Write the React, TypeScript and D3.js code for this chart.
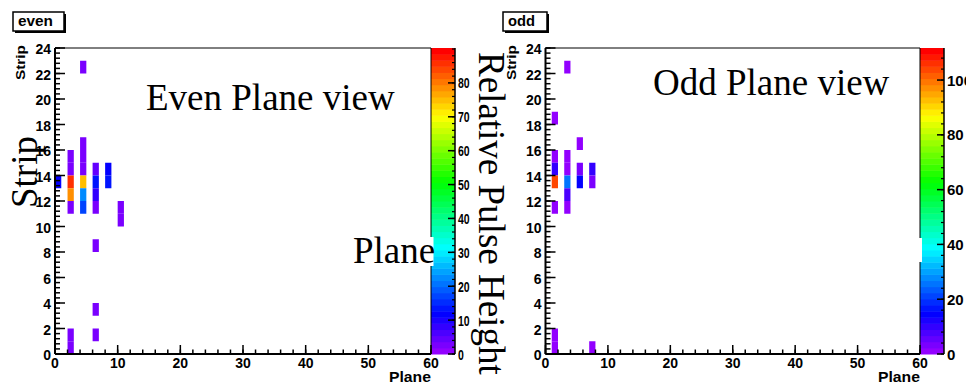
import React from 'react';
import * as d3 from 'd3';

// ---- data ----
const planeTicks = [0, 10, 20, 30, 40, 50, 60];
const stripTicks = [0, 2, 4, 6, 8, 10, 12, 14, 16, 18, 20, 22, 24];

const evenPlane = [0, 2, 2, 2, 2, 2, 2, 2, 4, 4, 4, 4, 4, 4, 4, 6, 6, 6, 6, 6, 6, 6, 8, 8, 10, 10];
const evenStrip = [13, 15, 14, 13, 12, 11, 1, 0, 22, 16, 15, 14, 13, 12, 11, 14, 13, 12, 11, 8, 3, 1, 14, 13, 11, 10];
const evenValue = [12, 3, 3, 86, 78, 3, 2, 2, 2, 2, 2, 3, 75, 22, 18, 4, 14, 8, 3, 2, 2, 2, 12, 13, 2, 2];

const oddPlane = [1, 1, 1, 1, 1, 1, 1, 3, 3, 3, 3, 3, 3, 5, 5, 5, 7, 7, 7];
const oddStrip = [18, 15, 14, 13, 11, 1, 0, 22, 15, 14, 13, 12, 11, 16, 14, 13, 14, 13, 0];
const oddValue = [2, 2, 11, 104, 2, 2, 2, 2, 2, 2, 26, 8, 2, 2, 3, 15, 10, 3, 2];

const evenZTicks = [0, 10, 20, 30, 40, 50, 60, 70, 80];
const oddZTicks = [0, 20, 40, 60, 80, 100];
const evenZMax = 90.3;
const oddZMax = 111.7;

const SANS = "'Liberation Sans', Arial, sans-serif";
const SERIF = "'Liberation Serif', 'Times New Roman', serif";

function palette(v: number, max: number) {
  const i = Math.min(49, Math.max(0, Math.floor((v / max) * 50)));
  return d3.hsl(280 - (i + 1) * 5.6, 1, 0.5).formatRgb();
}

type PanelProps = {
  x0: number;
  x1: number;
  plane: number[];
  strip: number[];
  value: number[];
  zMax: number;
  zTicks: number[];
  zMinor: number;
  zLabelScale: number;
  title: string;
  titleBox: [number, number];
  titleLen: number;
};

function Panel(p: PanelProps) {
  const yTop = 48;
  const yBot = 354;
  const x = d3.scaleLinear().domain([0, 60]).range([p.x0, p.x1]);
  const y = d3.scaleLinear().domain([0, 24]).range([yBot, yTop]);
  const z = d3.scaleLinear().domain([0, p.zMax]).range([yBot, yTop]);
  const cb0 = p.x1;
  const cb1 = p.x1 + 24;

  const xMinor = d3.range(0, 60.01, 2);
  const yMinor = d3.range(0, 24.01, 0.4);
  const zMinorTicks = d3.range(0, p.zMax, p.zMinor);
  const bands = d3.range(50);

  return (
    <g>
      {/* cells */}
      {p.plane.map((pl, i) => (
        <rect
          key={'c' + i}
          x={x(pl)}
          y={y(p.strip[i] + 1)}
          width={x(pl + 1) - x(pl)}
          height={y(p.strip[i]) - y(p.strip[i] + 1)}
          fill={palette(p.value[i], p.zMax)}
        />
      ))}
      {/* color bar */}
      {bands.map((i) => {
        const lo = (i * p.zMax) / 50;
        const hi = ((i + 1) * p.zMax) / 50;
        return (
          <rect
            key={'b' + i}
            x={cb0}
            y={z(hi)}
            width={cb1 - cb0}
            height={z(lo) - z(hi) + 0.5}
            fill={palette((lo + hi) / 2, p.zMax)}
          />
        );
      })}
      <line x1={cb1} x2={cb1} y1={yTop} y2={yBot} stroke="#000" strokeWidth={1.5} />
      {zMinorTicks.map((t) => (
        <line key={'zm' + t} x1={cb1 - 3} x2={cb1} y1={z(t)} y2={z(t)} stroke="#000" strokeWidth={1.2} />
      ))}
      {p.zTicks.map((t) => (
        <g key={'zt' + t}>
          <line x1={cb1 - 7} x2={cb1} y1={z(t)} y2={z(t)} stroke="#000" strokeWidth={1.5} />
          <text
            transform={`translate(${cb1 + 3},${z(t) + 5.5}) scale(${p.zLabelScale},1)`}
            fontFamily={SANS}
            fontWeight="bold"
            fontSize={15}
          >
            {t}
          </text>
        </g>
      ))}
      {/* frame */}
      <line x1={p.x0} x2={p.x1} y1={yTop} y2={yTop} stroke="#000" strokeWidth={1} />
      <line x1={p.x1} x2={p.x1} y1={yTop} y2={yBot} stroke="#000" strokeWidth={1} />
      {/* axes */}
      <line x1={p.x0} x2={p.x1} y1={yBot} y2={yBot} stroke="#000" strokeWidth={2} />
      <line x1={p.x0} x2={p.x0} y1={yTop} y2={yBot} stroke="#000" strokeWidth={2} />
      {xMinor.map((t) => (
        <line key={'xm' + t} x1={x(t)} x2={x(t)} y1={yBot} y2={yBot - 4.5} stroke="#000" strokeWidth={1.5} />
      ))}
      {planeTicks.map((t) => (
        <g key={'xt' + t}>
          <line x1={x(t)} x2={x(t)} y1={yBot} y2={yBot - 9} stroke="#000" strokeWidth={1.5} />
          <text x={x(t)} y={368} textAnchor="middle" fontFamily={SANS} fontWeight="bold" fontSize={14}>
            {t}
          </text>
        </g>
      ))}
      {yMinor.map((t) => (
        <line key={'ym' + t} x1={p.x0} x2={p.x0 + 5} y1={y(t)} y2={y(t)} stroke="#000" strokeWidth={1.5} />
      ))}
      {stripTicks.map((t) => (
        <g key={'yt' + t}>
          <line x1={p.x0} x2={p.x0 + 10} y1={y(t)} y2={y(t)} stroke="#000" strokeWidth={1.5} />
          <text x={p.x0 - 4} y={y(t) + 6} textAnchor="end" fontFamily={SANS} fontWeight="bold" fontSize={14}>
            {t}
          </text>
        </g>
      ))}
      {/* axis titles */}
      <text
        transform={`translate(${p.x0 - 30},45) rotate(-90)`}
        textAnchor="end"
        fontFamily={SANS}
        fontWeight="bold"
        fontSize={13}
        textLength={35}
        lengthAdjust="spacingAndGlyphs"
      >
        Strip
      </text>
      <text
        x={p.x1 - 42}
        y={381.5}
        fontFamily={SANS}
        fontWeight="bold"
        fontSize={14}
        textLength={42}
        lengthAdjust="spacingAndGlyphs"
      >
        Plane
      </text>
      {/* title box */}
      <rect x={p.titleBox[0] + 2} y={14} width={p.titleBox[1]} height={19} fill="#000" />
      <rect x={p.titleBox[0]} y={12} width={p.titleBox[1]} height={19} fill="#fff" stroke="#000" strokeWidth={1.5} />
      <text
        x={p.titleBox[0] + 5}
        y={26}
        fontFamily={SANS}
        fontWeight="bold"
        fontSize={14}
        textLength={p.titleLen}
        lengthAdjust="spacingAndGlyphs"
      >
        {p.title}
      </text>
    </g>
  );
}

export default function App() {
  return (
    <svg
      width={966}
      height={383}
      viewBox="0 0 966 383"
      style={{ position: 'absolute', left: 0, top: 0, background: '#fff' }}
    >
      <rect x={0} y={0} width={966} height={383} fill="#fff" />
      <Panel
        x0={55}
        x1={431}
        plane={evenPlane}
        strip={evenStrip}
        value={evenValue}
        zMax={evenZMax}
        zTicks={evenZTicks}
        zMinor={2}
        zLabelScale={0.7}
        title="even"
        titleBox={[13, 51]}
        titleLen={35}
      />
      <Panel
        x0={545.5}
        x1={920}
        plane={oddPlane}
        strip={oddStrip}
        value={oddValue}
        zMax={oddZMax}
        zTicks={oddZTicks}
        zMinor={4}
        zLabelScale={1}
        title="odd"
        titleBox={[503, 44]}
        titleLen={27}
      />
      {/* overlay text boxes */}
      <rect x={350} y={237} width={83.5} height={29} fill="#fff" />
      <rect x={845} y={238} width={77} height={24} fill="#fff" />
      <text x={146} y={110} fontFamily={SERIF} fontSize={37}>
        Even Plane view
      </text>
      <text x={653} y={95} fontFamily={SERIF} fontSize={37}>
        Odd Plane view
      </text>
      <text transform="translate(37,208) rotate(-90)" fontFamily={SERIF} fontSize={37}>
        Strip
      </text>
      <text x={353} y={263} fontFamily={SERIF} fontSize={37}>
        Plane
      </text>
      <text transform="translate(479,52) rotate(90)" fontFamily={SERIF} fontSize={37}>
        Relative Pulse Height
      </text>
    </svg>
  );
}
